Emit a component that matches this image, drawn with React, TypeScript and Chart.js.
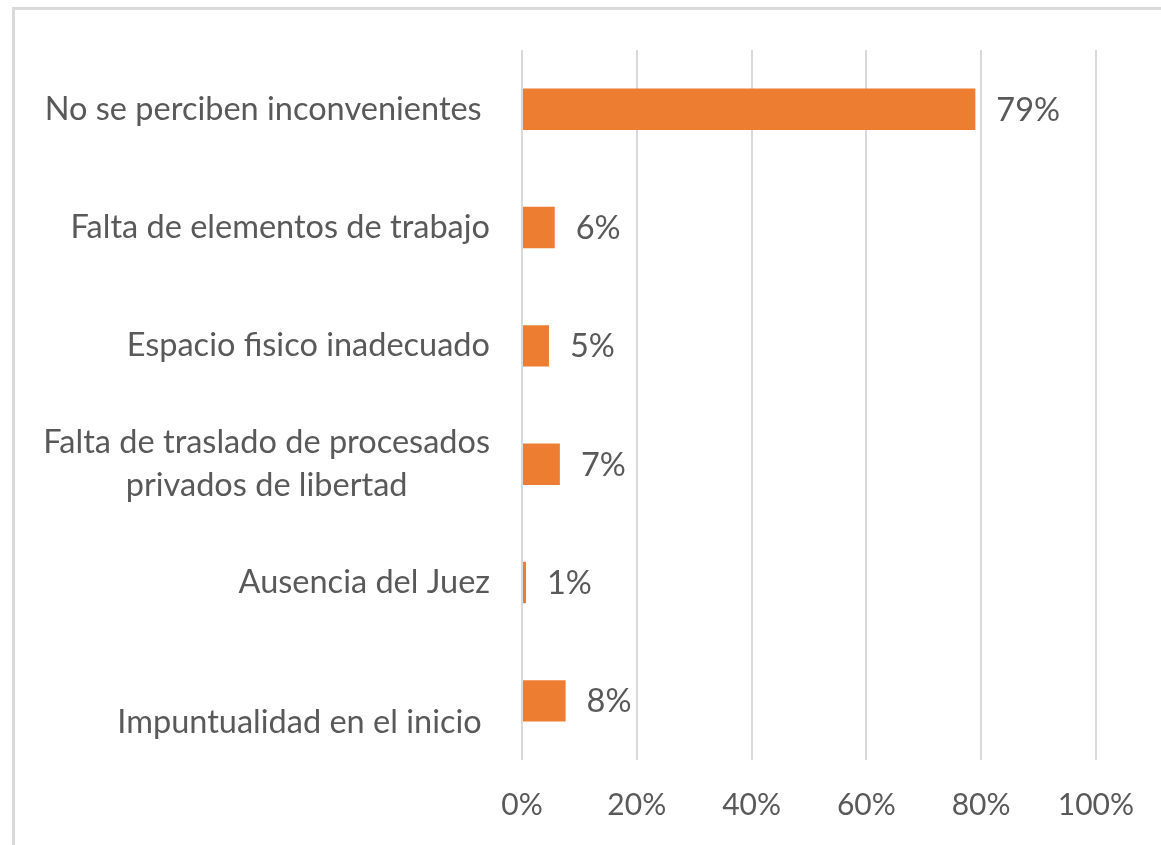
import React, { useEffect, useRef } from "react";
import { Chart, registerables } from "chart.js";

Chart.register(...registerables);

const categories: string[][] = [
  ["No se perciben inconvenientes "],
  ["Falta de elementos de trabajo"],
  ["Espacio fisico inadecuado"],
  ["Falta de traslado de procesados", "privados de libertad"],
  ["Ausencia del Juez"],
  ["", "Impuntualidad en el inicio "],
];
const values = [0.79, 0.057, 0.047, 0.066, 0.007, 0.076];
const valueLabels = ["79%", "6%", "5%", "7%", "1%", "8%"];
const xTickValues = [0, 0.2, 0.4, 0.6, 0.8, 1.0];

const FONT_FAMILY = "Lato, 'Open Sans', sans-serif";
const TICK_FONT_SIZE = 30;
const LABEL_FONT_SIZE = 32.5;
const TEXT_COLOR = "#595959";
const BAR_COLOR = "#ED7D31";
const GRID_COLOR = "#d9d9d9";
const LINE_HEIGHT = 43;

const yLabelPlugin = {
  id: "yLabelPlugin",
  afterDraw(chart: any) {
    const ctx = chart.ctx;
    const yScale = chart.scales.y;
    const right = chart.chartArea.left - 32;
    ctx.save();
    ctx.font = `${LABEL_FONT_SIZE}px ${FONT_FAMILY}`;
    ctx.fillStyle = TEXT_COLOR;
    ctx.textBaseline = "middle";
    ctx.textAlign = "center";
    categories.forEach((lines, i) => {
      const cy = yScale.getPixelForValue(i);
      const blockW = Math.max(...lines.map((l) => ctx.measureText(l).width));
      const cx = right - blockW / 2;
      const n = lines.length;
      lines.forEach((line, j) => {
        const y = cy + (j - (n - 1) / 2) * LINE_HEIGHT;
        ctx.fillText(line, cx, y);
      });
    });
    ctx.restore();
  },
};

const valueLabelPlugin = {
  id: "valueLabelPlugin",
  afterDatasetsDraw(chart: any) {
    const ctx = chart.ctx;
    const meta = chart.getDatasetMeta(0);
    ctx.save();
    ctx.font = `${LABEL_FONT_SIZE}px ${FONT_FAMILY}`;
    ctx.fillStyle = TEXT_COLOR;
    ctx.textBaseline = "middle";
    ctx.textAlign = "left";
    meta.data.forEach((bar: any, i: number) => {
      ctx.fillText(valueLabels[i], bar.x + 21, bar.y + 1);
    });
    ctx.restore();
  },
};

function BarChart() {
  const ref = useRef<HTMLCanvasElement | null>(null);
  useEffect(() => {
    if (!ref.current) return;
    const chart = new Chart(ref.current, {
      type: "bar",
      data: {
        labels: categories.map((c) => c.join(" ")),
        datasets: [
          {
            data: values,
            backgroundColor: BAR_COLOR,
            borderWidth: 0,
            barPercentage: 0.35,
            categoryPercentage: 1,
          },
        ],
      },
      options: {
        indexAxis: "y",
        animation: false,
        responsive: false,
        maintainAspectRatio: false,
        layout: { padding: { top: 50, right: 63, left: 0, bottom: 0 } },
        plugins: {
          legend: { display: false },
          tooltip: { enabled: false },
          title: { display: false },
        },
        scales: {
          x: {
            min: 0,
            max: 1,
            afterBuildTicks: (scale: any) => {
              scale.ticks = xTickValues.map((v) => ({ value: v }));
            },
            afterFit: (scale: any) => {
              scale.height = 85;
            },
            ticks: {
              color: TEXT_COLOR,
              font: { family: FONT_FAMILY, size: TICK_FONT_SIZE },
              padding: 27,
              maxRotation: 0,
              callback: (v: any) => Math.round(Number(v) * 100) + "%",
            },
            grid: {
              color: GRID_COLOR,
              lineWidth: 2,
              drawTicks: false,
            },
            border: { display: false },
          },
          y: {
            afterFit: (scale: any) => {
              scale.width = 522;
            },
            ticks: { display: false },
            grid: { display: false, drawTicks: false },
            border: { display: false },
          },
        },
      },
      plugins: [yLabelPlugin, valueLabelPlugin],
    } as any);
    return () => chart.destroy();
  }, []);
  return <canvas ref={ref} width={1161} height={845} style={{ display: "block", width: 1161, height: 845 }} />;
}

export default function App() {
  return (
    <div
      style={{
        position: "absolute",
        left: 0,
        top: 0,
        width: 1161,
        height: 845,
        overflow: "hidden",
        background: "#fff",
      }}
    >
      <div
        style={{
          position: "absolute",
          left: 12,
          top: 7,
          width: 2000,
          height: 2000,
          borderTop: `3px solid ${GRID_COLOR}`,
          borderLeft: `3px solid ${GRID_COLOR}`,
        }}
      />
      <div style={{ position: "absolute", left: 0, top: 0 }}>
        <BarChart />
      </div>
    </div>
  );
}
